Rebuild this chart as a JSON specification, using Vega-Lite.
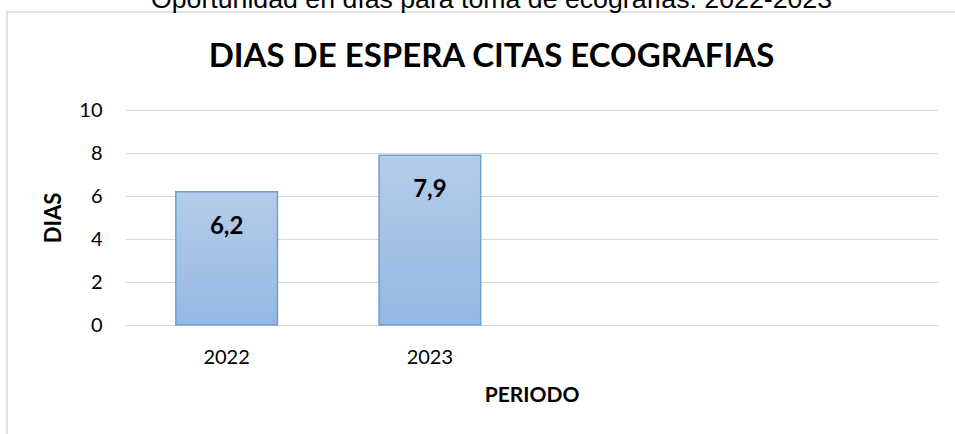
{
  "$schema": "https://vega.github.io/schema/vega-lite/v6.json",
  "width": 955,
  "height": 430,
  "autosize": {"type": "none"},
  "padding": {"left": 7, "top": 12, "right": 0, "bottom": 0},
  "background": "white",
  "title": {
    "text": "Oportunidad en días para toma de ecografías. 2022-2023",
    "subtitle": "DIAS DE ESPERA CITAS ECOGRAFIAS",
    "font": "Liberation Sans",
    "fontSize": 26.7,
    "fontWeight": "normal",
    "color": "#000000",
    "subtitleFont": "Lato",
    "subtitleFontSize": 33,
    "subtitleFontWeight": "bold",
    "subtitleColor": "#000000",
    "subtitlePadding": 27,
    "anchor": "middle",
    "frame": "group",
    "dx": 7,
    "offset": -62
  },
  "data": {
    "values": [
      {"periodo": "2022", "dias": 6.2},
      {"periodo": "2023", "dias": 7.9}
    ]
  },
  "encoding": {
    "x": {
      "field": "periodo",
      "type": "nominal",
      "scale": {
        "domain": ["2022", "2023", "c3", "c4"],
        "range": [118, 931],
        "paddingInner": 0.5,
        "paddingOuter": 0.25
      },
      "axis": {
        "title": "PERIODO",
        "offset": -117,
        "labelExpr": "datum.value == '2022' || datum.value == '2023' ? datum.value : ''",
        "labelAngle": 0,
        "domain": false,
        "ticks": false,
        "tickSize": 0,
        "grid": false,
        "labelFont": "Lato",
        "labelFontSize": 20,
        "labelColor": "#000000",
        "labelPadding": 22,
        "titleFont": "Lato",
        "titleFontSize": 21,
        "titleFontWeight": "bold",
        "titleColor": "#000000",
        "titlePadding": 17
      }
    },
    "y": {
      "field": "dias",
      "type": "quantitative",
      "scale": {"domain": [0, 10], "range": [313, 98], "nice": false, "zero": true},
      "axis": {
        "title": "DIAS",
        "offset": -118,
        "values": [0, 2, 4, 6, 8, 10],
        "format": "d",
        "domain": false,
        "ticks": false,
        "tickSize": 0,
        "grid": true,
        "gridColor": "#D9D9D9",
        "gridWidth": 1.2,
        "labelFont": "Lato",
        "labelFontSize": 20,
        "labelColor": "#000000",
        "labelPadding": 23,
        "titleFont": "Lato",
        "titleFontSize": 22,
        "titleFontWeight": "bold",
        "titleColor": "#000000",
        "titlePadding": 13
      }
    }
  },
  "layer": [
    {
      "mark": {
        "type": "bar",
        "color": {
          "gradient": "linear",
          "x1": 0, "y1": 0, "x2": 0, "y2": 1,
          "stops": [
            {"offset": 0, "color": "#B5CCEA"},
            {"offset": 1, "color": "#94B8E3"}
          ]
        },
        "stroke": "#6A9FD6",
        "strokeWidth": 1.5
      }
    },
    {
      "mark": {
        "type": "text",
        "baseline": "top",
        "dy": 23,
        "font": "Lato",
        "fontSize": 24,
        "fontWeight": "bold",
        "color": "#000000"
      },
      "encoding": {
        "text": {"field": "dias", "type": "quantitative", "format": ".1f"}
      }
    }
  ],
  "config": {
    "view": {"stroke": "#D9D9D9", "strokeWidth": 1.5},
    "locale": {
      "number": {
        "decimal": ",",
        "thousands": ".",
        "grouping": [3],
        "currency": ["$", ""]
      }
    }
  }
}
